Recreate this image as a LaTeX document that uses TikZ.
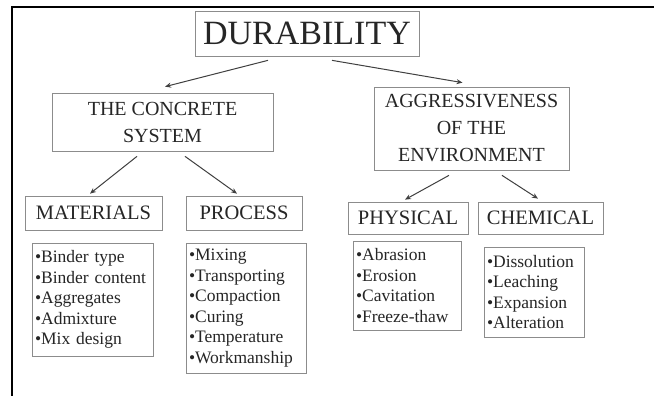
\documentclass[tikz,border=0pt]{standalone}
\usepackage{fontspec}
\setmainfont{Liberation Serif}
\usetikzlibrary{arrows.meta}
\begin{document}
\begin{tikzpicture}[x=1pt,y=-1pt,
  box/.style={draw=black!45,line width=0.7pt,inner sep=0pt,text=black!85,align=center},
  head/.style={box,font=\fontsize{20}{27}\selectfont},
  listbox/.style={draw=black!45,line width=0.7pt,inner sep=3pt,text=black!85,align=left,font=\fontsize{17.5}{20.6}\selectfont},
  arr/.style={draw=black!75,line width=1pt,-{Stealth[length=6pt,width=5pt]}}]
\useasboundingbox (0,0) rectangle (654,396);
\fill[white] (0,0) rectangle (654,396);
\draw[line width=2pt] (12,396) -- (12,7) -- (654,7);

\node[box,minimum width=224pt,minimum height=45pt,font=\fontsize{34}{36}\selectfont] (dur) at (307,33.5) {DURABILITY};
\node[head,minimum width=221pt,minimum height=58pt] (conc) at (162.5,122) {THE CONCRETE\\SYSTEM};
\node[head,minimum width=195pt,minimum height=83pt] (agg) at (471.5,128.5) {AGGRESSIVENESS\\OF THE\\ENVIRONMENT};
\node[head,minimum width=137pt,minimum height=34pt,font=\fontsize{20.5}{24}\selectfont] (mat) at (93.5,213) {MATERIALS};
\node[head,minimum width=116pt,minimum height=34pt,font=\fontsize{20.5}{24}\selectfont] (proc) at (244,213) {PROCESS};
\node[head,minimum width=120pt,minimum height=32pt,font=\fontsize{20.5}{24}\selectfont] (phys) at (408,218) {PHYSICAL};
\node[head,minimum width=125pt,minimum height=32pt,font=\fontsize{20.5}{24}\selectfont] (chem) at (540.5,218) {CHEMICAL};

\node[listbox,minimum width=121pt,minimum height=113pt,text width=115pt] (matl) at (92.5,299.5)
  {•Binder type\\•Binder content\\•Aggregates\\•Admixture\\•Mix design};
\node[listbox,minimum width=120pt,minimum height=130pt,text width=114pt] (procl) at (246,308)
  {•Mixing\\•Transporting\\•Compaction\\•Curing\\•Temperature\\•Workmanship};
\node[listbox,minimum width=108pt,minimum height=89pt,text width=102pt] (physl) at (407,285.5)
  {•Abrasion\\•Erosion\\•Cavitation\\•Freeze-thaw};
\node[listbox,minimum width=100pt,minimum height=90pt,text width=94pt] (cheml) at (534,292)
  {•Dissolution\\•Leaching\\•Expansion\\•Alteration};

\draw[arr] ([shift={(-39,4)}]dur.south) -- ([shift={(2.5,-6)}]conc.north);
\draw[arr] ([shift={(25,4)}]dur.south) -- ([shift={(-9,-4)}]agg.north);
\draw[arr] ([shift={(-25.5,5)}]conc.south) -- ([shift={(-3.5,-2)}]mat.north);
\draw[arr] ([shift={(22.5,5)}]conc.south) -- ([shift={(-7,-2)}]proc.north);
\draw[arr] ([shift={(-22.5,5)}]agg.south) -- ([shift={(-3,-2)}]phys.north);
\draw[arr] ([shift={(30.5,5)}]agg.south) -- ([shift={(-2.5,-3)}]chem.north);
\end{tikzpicture}
\end{document}
